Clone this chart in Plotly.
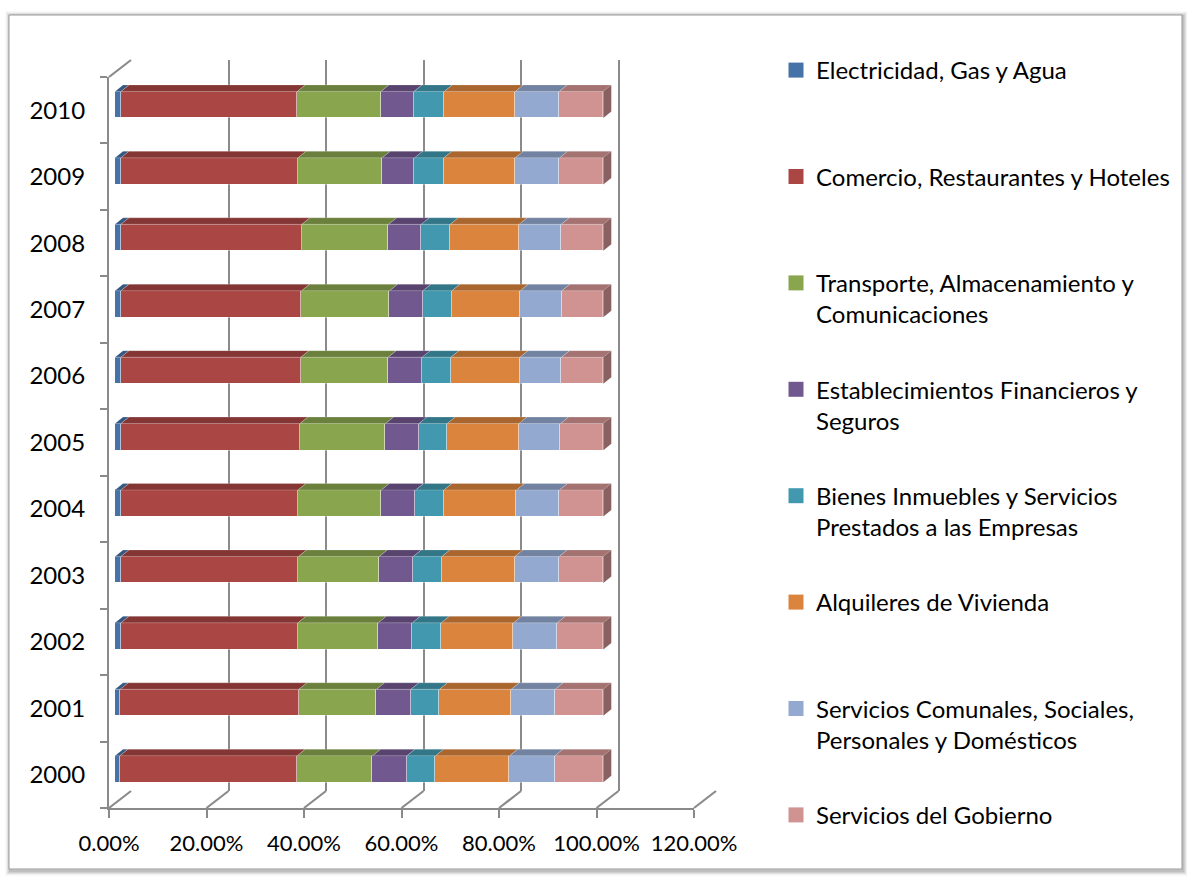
import plotly.graph_objects as go

# ---------------- data ----------------
years = ["2000", "2001", "2002", "2003", "2004", "2005", "2006", "2007", "2008", "2009", "2010"]

series_names = [
    "Electricidad, Gas y Agua",
    "Comercio, Restaurantes y Hoteles",
    "Transporte, Almacenamiento y<br>Comunicaciones",
    "Establecimientos Financieros y<br>Seguros",
    "Bienes Inmuebles y Servicios<br>Prestados a las Empresas",
    "Alquileres de Vivienda",
    "Servicios Comunales, Sociales,<br>Personales y Domésticos",
    "Servicios del Gobierno",
]

electricidad = [0.0102, 0.0109, 0.0123, 0.0123, 0.0123, 0.0123, 0.0123, 0.0123, 0.0123, 0.0123, 0.0123]
comercio     = [0.3632, 0.3659, 0.3624, 0.3638, 0.3624, 0.3665, 0.3686, 0.3700, 0.3706, 0.3624, 0.3611]
transporte   = [0.1542, 0.1590, 0.1645, 0.1652, 0.1707, 0.1755, 0.1788, 0.1802, 0.1775, 0.1727, 0.1713]
financieros  = [0.0704, 0.0703, 0.0697, 0.0696, 0.0703, 0.0682, 0.0697, 0.0682, 0.0669, 0.0663, 0.0676]
inmuebles    = [0.0587, 0.0587, 0.0594, 0.0587, 0.0580, 0.0580, 0.0587, 0.0594, 0.0594, 0.0600, 0.0621]
alquileres   = [0.1515, 0.1468, 0.1481, 0.1495, 0.1488, 0.1468, 0.1413, 0.1399, 0.1413, 0.1461, 0.1454]
comunales    = [0.0928, 0.0901, 0.0894, 0.0908, 0.0881, 0.0853, 0.0853, 0.0854, 0.0860, 0.0908, 0.0901]
gobierno     = [0.0990, 0.0983, 0.0942, 0.0901, 0.0894, 0.0874, 0.0853, 0.0846, 0.0860, 0.0894, 0.0901]

series_values = [electricidad, comercio, transporte, financieros, inmuebles, alquileres, comunales, gobierno]

x_tick_values = [0.0, 0.2, 0.4, 0.6, 0.8, 1.0, 1.2]
x_tick_labels = ["0.00%", "20.00%", "40.00%", "60.00%", "80.00%", "100.00%", "120.00%"]

# ---------------- styling ----------------
front_colors = ["#4572A7", "#AA4643", "#89A54E", "#71588F", "#4198AF", "#DB843D", "#93A9CF", "#D19392"]


def shade(hex_color, f):
    h = hex_color.lstrip("#")
    r, g, b = (int(h[i:i + 2], 16) for i in (0, 2, 4))
    return "rgb(%d,%d,%d)" % (r * f, g * f, b * f)


top_colors = [shade(c, 0.78) for c in front_colors]
side_color = shade(front_colors[-1], 0.66)

W, H = 1187, 881
FONT = "Lato"
GRID = "#8a8a8a"


def pxx(p):
    return p / W


def pxy(p):
    return 1 - p / H


# geometry (pixels) of the three planes of the pseudo-3D chart
FRONT_X0, BACK_X0, X_SCALE = 109, 131, 487.5       # per unit (100%)
FRONT_Y_BOT, FRONT_Y_TOP = 808, 77
BACK_Y_BOT, BACK_Y_TOP = 791, 60
BAR_X0, BAR_XS = 115, 488.3
BAR_Y0, BAR_YS = 769, 66.43
BAR_W = 0.40
DEPTH_DX, DEPTH_DY = 8 / BAR_XS, 6.5 / BAR_YS

bar_xrange = [-0.03, 1.25]
bar_yrange = [-0.65, 10.65]

fig = go.Figure()

# empty traces so that the wall and front-axis subplots are created
fig.add_trace(go.Scatter(x=[None], y=[None], xaxis="x", yaxis="y", showlegend=False, hoverinfo="skip"))
fig.add_trace(go.Scatter(x=[None], y=[None], xaxis="x2", yaxis="y2", showlegend=False, hoverinfo="skip"))

ypos = list(range(len(years)))

# front faces
for k, (name, vals) in enumerate(zip(series_names, series_values)):
    fig.add_trace(go.Bar(
        x=vals, y=ypos, orientation="h", width=BAR_W,
        marker=dict(color=front_colors[k], line=dict(color="rgba(255,255,255,0.35)", width=1)),
        xaxis="x3", yaxis="y3", showlegend=False, hoverinfo="skip",
    ))

# top faces and right side face (derived from cumulative values)
cum = [[0.0] * len(years)]
for vals in series_values:
    cum.append([c + v for c, v in zip(cum[-1], vals)])

for k in range(len(series_values)):
    xs, ys = [], []
    for i in ypos:
        c0, c1 = cum[k][i], cum[k + 1][i]
        yt = i + BAR_W / 2
        xs += [c0, c1, c1 + DEPTH_DX, c0 + DEPTH_DX, c0, None]
        ys += [yt, yt, yt + DEPTH_DY, yt + DEPTH_DY, yt, None]
    fig.add_trace(go.Scatter(
        x=xs, y=ys, mode="lines", fill="toself", fillcolor=top_colors[k],
        line=dict(width=0.6, color="rgba(255,255,255,0.35)"),
        xaxis="x3", yaxis="y3", showlegend=False, hoverinfo="skip",
    ))

xs, ys = [], []
for i in ypos:
    c1 = cum[-1][i]
    yb, yt = i - BAR_W / 2, i + BAR_W / 2
    xs += [c1, c1, c1 + DEPTH_DX, c1 + DEPTH_DX, c1, None]
    ys += [yb, yt, yt + DEPTH_DY, yb + DEPTH_DY, yb, None]
fig.add_trace(go.Scatter(
    x=xs, y=ys, mode="lines", fill="toself", fillcolor=side_color,
    line=dict(width=0), xaxis="x3", yaxis="y3", showlegend=False, hoverinfo="skip",
))

# legend entries
for k, name in enumerate(series_names):
    label = name if "<br>" in name else name + "<br>&nbsp;"
    fig.add_trace(go.Scatter(
        x=[None], y=[None], mode="markers", name=label,
        marker=dict(symbol="square", size=15, color=front_colors[k]),
        xaxis="x3", yaxis="y3", legendgroup="g%d" % k, showlegend=True,
    ))

# paper shapes: slanted depth edges + outer frame
shapes = []
for v in x_tick_values:
    shapes.append(dict(type="line", xref="paper", yref="paper",
                       x0=pxx(FRONT_X0 + X_SCALE * v), y0=pxy(FRONT_Y_BOT),
                       x1=pxx(BACK_X0 + X_SCALE * v), y1=pxy(BACK_Y_BOT),
                       line=dict(color=GRID, width=2.2)))
shapes.append(dict(type="line", xref="paper", yref="paper",
                   x0=pxx(FRONT_X0), y0=pxy(FRONT_Y_TOP), x1=pxx(BACK_X0), y1=pxy(BACK_Y_TOP),
                   line=dict(color=GRID, width=2.2)))
for w, a in [(9, 0.05), (6, 0.08), (3, 0.14)]:
    shapes.append(dict(type="rect", xref="paper", yref="paper", layer="below",
                       x0=pxx(10), y0=pxy(871), x1=pxx(1183), y1=pxy(16),
                       line=dict(color="rgba(0,0,0,%g)" % a, width=w)))
shapes.append(dict(type="rect", xref="paper", yref="paper", layer="below",
                   x0=pxx(9), y0=pxy(869), x1=pxx(1182), y1=pxy(15),
                   fillcolor="white", line=dict(color="#9a9a9a", width=1)))

fig.update_layout(
    template="none",
    width=W, height=H, autosize=False,
    margin=dict(l=0, r=0, t=0, b=0, pad=0, autoexpand=False),
    paper_bgcolor="white", plot_bgcolor="rgba(0,0,0,0)",
    barmode="stack", bargap=0,
    font=dict(family=FONT, size=22, color="black"),
    shapes=shapes,
    # back wall (gridlines)
    xaxis=dict(domain=[pxx(BACK_X0), pxx(BACK_X0 + 1.2 * X_SCALE)], range=[0, 1.2],
               tickvals=x_tick_values, showticklabels=False, ticks="",
               showgrid=True, gridcolor=GRID, gridwidth=2.2, zeroline=False,
               showline=False, anchor="y", fixedrange=True, automargin=False),
    yaxis=dict(domain=[pxy(BACK_Y_BOT), pxy(BACK_Y_TOP)], range=[0, 1],
               showgrid=False, zeroline=False, showticklabels=False, ticks="",
               showline=False, anchor="x", fixedrange=True, automargin=False),
    # front axes with labels
    xaxis2=dict(domain=[pxx(FRONT_X0), pxx(FRONT_X0 + 1.2 * X_SCALE)], range=[0, 1.2],
                tickvals=x_tick_values, ticktext=x_tick_labels,
                ticks="outside", ticklen=8, tickwidth=2.2, tickcolor=GRID,
                showline=True, linecolor=GRID, linewidth=2.2,
                showgrid=False, zeroline=False, anchor="y2",
                tickfont=dict(family=FONT, size=22, color="black"),
                ticklabelstandoff=6, fixedrange=True, automargin=False),
    yaxis2=dict(domain=[pxy(FRONT_Y_BOT), pxy(FRONT_Y_TOP)], range=[-0.5, 10.5],
                tickvals=ypos, ticktext=years, ticks="",
                minor=dict(tickvals=[i - 0.5 for i in range(len(years) + 1)],
                           ticks="outside", ticklen=7, tickwidth=2.2, tickcolor=GRID,
                           showgrid=False),
                showline=True, linecolor=GRID, linewidth=2.2,
                showgrid=False, zeroline=False, anchor="x2",
                tickfont=dict(family=FONT, size=24, color="black"),
                ticklabelstandoff=17, fixedrange=True, automargin=False),
    # bar plane
    xaxis3=dict(domain=[pxx(BAR_X0 + BAR_XS * bar_xrange[0]), pxx(BAR_X0 + BAR_XS * bar_xrange[1])],
                range=bar_xrange, visible=False, anchor="y3", fixedrange=True, automargin=False),
    yaxis3=dict(domain=[pxy(BAR_Y0 - BAR_YS * bar_yrange[0]), pxy(BAR_Y0 - BAR_YS * bar_yrange[1])],
                range=bar_yrange, visible=False, anchor="x3", fixedrange=True, automargin=False),
    legend=dict(x=pxx(776), y=pxy(48), xanchor="left", yanchor="top",
                xref="container", yref="container", maxheight=860,
                font=dict(family=FONT, size=24, color="black"),
                tracegroupgap=41, valign="top", bgcolor="rgba(0,0,0,0)", borderwidth=0,
                itemclick=False, itemdoubleclick=False),
    showlegend=True,
)

fig.write_html("out.html", config={"displayModeBar": False},
               post_script="document.body.style.margin='0';")
